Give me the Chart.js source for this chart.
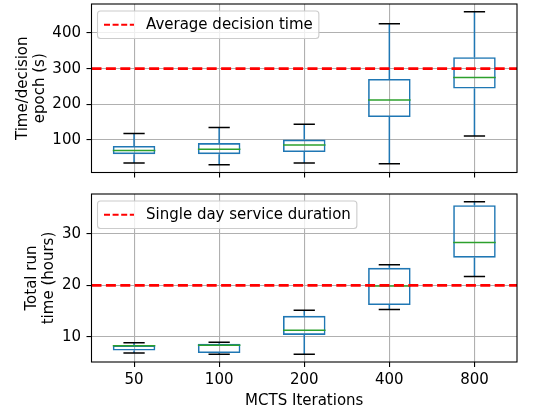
<!DOCTYPE html>
<html>
<head>
<meta charset="utf-8">
<script src="https://cdn.jsdelivr.net/npm/chart.js@4.4.1/dist/chart.umd.min.js"></script>
<style>
  html, body { margin: 0; padding: 0; background: #fff; }
  #wrap { position: relative; width: 534px; height: 410px; }
  .pane { position: absolute; left: 0; width: 534px; }
</style>
</head>
<body>
<div id="wrap">
  <div class="pane" style="top:0;height:190px"><canvas id="decision"></canvas></div>
  <div class="pane" style="top:186px;height:224px"><canvas id="runtime"></canvas></div>
</div>
<script>
// MCTS iteration counts (x categories)
const categories = ['50', '100', '200', '400', '800'];

// time per decision epoch (s): whisker low, q1, median, q3, whisker high
const decLo     = [35, 30, 35, 33, 111];
const decQ1     = [60, 60, 66, 164, 244];
const decMedian = [70, 74, 86, 212, 275];
const decQ3     = [83, 91, 101, 271, 332];
const decHi     = [118, 135, 144, 426, 460];
const decRef    = 300;
const decTicks  = [100, 200, 300, 400];

// total run time (hours)
const runLo     = [6.9, 6.65, 6.65, 15.35, 21.7];
const runQ1     = [7.4, 6.9, 10.4, 16.2, 25.35];
const runMedian = [8.3, 8.4, 11.3, 19.9, 28.3];
const runQ3     = [8.4, 8.7, 14.1, 23.4, 35.5];
const runHi     = [8.9, 9.0, 15.2, 24.0, 36.2];
const runRef    = 20;
const runTicks  = [10, 20, 30];

const BLUE = '#1f77b4', GREEN = '#2ca02c', RED = '#ff0000';
const FONT = 15;

Chart.defaults.font.family = '"DejaVu Sans", sans-serif';
Chart.defaults.font.size = FONT;
Chart.defaults.color = '#000';

// whiskers, caps, medians, reference line, frame and legend
const boxExtras = {
  id: 'boxExtras',
  afterDatasetsDraw(chart, args, o) {
    const ctx = chart.ctx, xs = chart.scales.x, ys = chart.scales.y, a = chart.chartArea;
    const step = xs.getPixelForValue(1) - xs.getPixelForValue(0);
    ctx.save();
    ctx.beginPath();
    ctx.rect(a.left, a.top, a.right - a.left, a.bottom - a.top);
    ctx.clip();
    ctx.lineWidth = 1.5;
    o.lo.forEach((lo, i) => {
      const cx = xs.getPixelForValue(i);
      ctx.strokeStyle = BLUE;
      ctx.beginPath();
      ctx.moveTo(cx, ys.getPixelForValue(o.q3[i])); ctx.lineTo(cx, ys.getPixelForValue(o.hi[i]));
      ctx.moveTo(cx, ys.getPixelForValue(o.q1[i])); ctx.lineTo(cx, ys.getPixelForValue(lo));
      ctx.stroke();
      ctx.strokeStyle = '#000';
      const cw = step * 0.25 / 2;
      ctx.beginPath();
      [o.hi[i], lo].forEach(v => {
        const py = ys.getPixelForValue(v);
        ctx.moveTo(cx - cw, py); ctx.lineTo(cx + cw, py);
      });
      ctx.stroke();
      const bw = step * 0.5 / 2;
      const my = ys.getPixelForValue(o.med[i]);
      ctx.strokeStyle = GREEN;
      ctx.beginPath(); ctx.moveTo(cx - bw, my); ctx.lineTo(cx + bw, my); ctx.stroke();
    });
    const ry = ys.getPixelForValue(o.ref);
    ctx.strokeStyle = RED;
    ctx.lineWidth = 2.7;
    ctx.setLineDash([10, 4.4]);
    ctx.beginPath(); ctx.moveTo(a.left, ry); ctx.lineTo(a.right, ry); ctx.stroke();
    ctx.restore();

    // frame
    ctx.save();
    ctx.strokeStyle = '#000';
    ctx.lineWidth = 1.1;
    ctx.strokeRect(a.left, a.top, a.right - a.left, a.bottom - a.top);

    // legend
    ctx.font = FONT + 'px "DejaVu Sans"';
    const tw = ctx.measureText(o.label).width;
    const lx = a.left + 6, ly = a.top + 7, lh = 27.5;
    const lw = 48.5 + tw + 6;
    ctx.fillStyle = 'rgba(255,255,255,0.8)';
    ctx.strokeStyle = '#cccccc';
    ctx.lineWidth = 1.1;
    ctx.beginPath();
    ctx.roundRect(lx, ly, lw, lh, 3);
    ctx.fill(); ctx.stroke();
    ctx.strokeStyle = RED;
    ctx.lineWidth = 2.2;
    ctx.setLineDash([6, 2.6]);
    ctx.beginPath(); ctx.moveTo(lx + 6.5, ly + lh / 2); ctx.lineTo(lx + 36.5, ly + lh / 2); ctx.stroke();
    ctx.fillStyle = '#000';
    ctx.textBaseline = 'middle';
    ctx.fillText(o.label, lx + 48.5, ly + lh / 2 + 0.5);
    ctx.restore();
  }
};

function boxChart(id, opt) {
  return new Chart(document.getElementById(id), {
    type: 'bar',
    data: {
      labels: categories,
      datasets: [{
        data: opt.q1.map((v, i) => [v, opt.q3[i]]),
        backgroundColor: 'rgba(0,0,0,0)',
        borderColor: BLUE,
        borderWidth: 1.6,
        borderSkipped: false,
        barPercentage: 0.5,
        categoryPercentage: 1.0
      }]
    },
    options: {
      responsive: true,
      maintainAspectRatio: false,
      animation: false,
      layout: { padding: { left: 0, right: 17, top: opt.padTop, bottom: 0 } },
      plugins: {
        legend: { display: false },
        tooltip: { enabled: false },
        boxExtras: opt
      },
      scales: {
        x: {
          grid: { offset: false, color: '#b0b0b0', lineWidth: 1.1, tickColor: '#000', tickWidth: 1.1, tickLength: 5 },
          border: { display: false },
          ticks: { padding: 4, maxRotation: 0, callback: opt.showX ? (v, i) => categories[i] : () => '' },
          title: { display: opt.showX, text: 'MCTS Iterations', padding: { top: 0, bottom: 0 } },
          afterFit(s) { s.height = opt.xHeight; s.paddingLeft = 0; s.paddingRight = 0; }
        },
        y: {
          min: opt.yMin, max: opt.yMax,
          afterBuildTicks(s) { s.ticks = opt.ticks.map(v => ({ value: v })); },
          grid: { color: '#b0b0b0', lineWidth: 1.1, tickColor: '#000', tickWidth: 1.1, tickLength: 5 },
          border: { display: false },
          ticks: { padding: 5.5 },
          title: { display: true, text: opt.yTitle, padding: { top: opt.titlePad, bottom: 0 }, font: { lineHeight: 1.15 } },
          afterFit(s) { s.width = 91.5; s.paddingTop = 0; s.paddingBottom = 0; }
        }
      }
    },
    plugins: [boxExtras]
  });
}

boxChart('decision', {
  lo: decLo, q1: decQ1, med: decMedian, q3: decQ3, hi: decHi,
  ref: decRef, ticks: decTicks, yMin: 8.5, yMax: 481.5,
  label: 'Average decision time',
  yTitle: ['Time/decision', 'epoch (s)'], titlePad: 14.5,
  padTop: 4, xHeight: 17.5, showX: false
});

boxChart('runtime', {
  lo: runLo, q1: runQ1, med: runMedian, q3: runQ3, hi: runHi,
  ref: runRef, ticks: runTicks, yMin: 5.17, yMax: 37.68,
  label: 'Single day service duration',
  yTitle: ['Total run', 'time (hours)'], titlePad: 23.5,
  padTop: 8, xHeight: 48, showX: true
});
</script>
</body>
</html>
